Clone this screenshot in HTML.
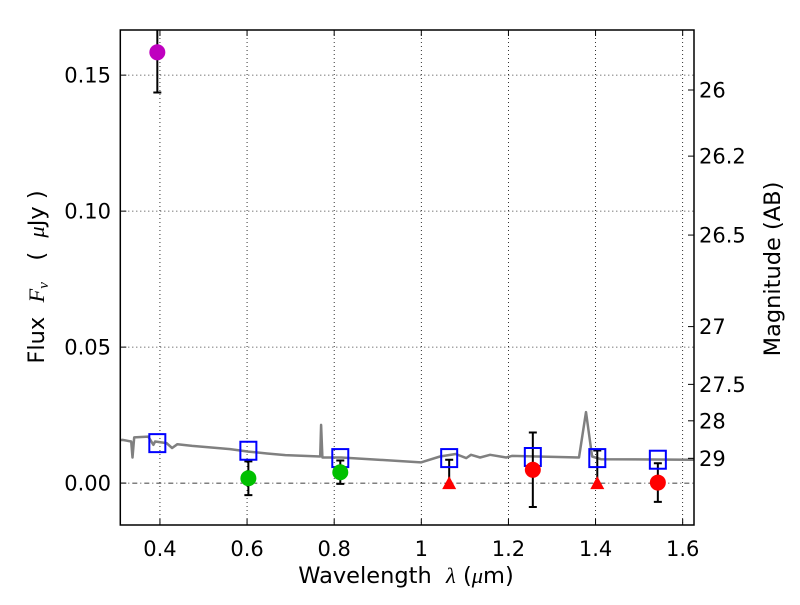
<!DOCTYPE html>
<html><head><meta charset="utf-8"><style>
body{margin:0;background:#fff;}
svg{font-family:"DejaVu Sans","Liberation Sans",sans-serif;}
.pre{white-space:pre;}
</style></head><body>
<svg id="chart" width="800" height="600" viewBox="0 0 800 600" xmlns="http://www.w3.org/2000/svg">
<defs><clipPath id="pc"><rect x="120.3" y="30" width="573.7" height="495"/></clipPath></defs>
<rect x="0" y="0" width="800" height="600" fill="#fff"/>
<g id="grid"></g>
<g id="marks" clip-path="url(#pc)"></g>
<g id="axes"></g>
</svg>
<script>
const xTicks = [0.4, 0.6, 0.8, 1.0, 1.2, 1.4, 1.6];
const xTickLabels = ["0.4", "0.6", "0.8", "1", "1.2", "1.4", "1.6"];
const yTicks = [0.00, 0.05, 0.10, 0.15];
const yTickLabels = ["0.00", "0.05", "0.10", "0.15"];
const magTicks = [26, 26.2, 26.5, 27, 27.5, 28, 29];
const magTickLabels = ["26", "26.2", "26.5", "27", "27.5", "28", "29"];
const specWave = [0.309,0.314,0.334,0.337,0.341,0.373,0.385,0.389,0.415,0.428,0.440,0.474,0.518,0.561,0.603,0.646,0.688,0.768,0.770,0.773,0.816,0.901,0.999,1.043,1.079,1.103,1.114,1.135,1.158,1.195,1.208,1.362,1.378,1.392,1.412,1.626];
const specFlux = [0.0158,0.0159,0.0153,0.0094,0.0168,0.0171,0.0141,0.0153,0.0147,0.0129,0.0143,0.0137,0.0131,0.0125,0.0116,0.0109,0.0103,0.0098,0.0214,0.0094,0.0094,0.0086,0.0076,0.0098,0.0107,0.0092,0.0104,0.0094,0.0104,0.0094,0.0100,0.0094,0.0261,0.0098,0.0088,0.0086];
const modelWave = [0.394,0.603,0.814,1.064,1.256,1.404,1.543];
const modelFlux = [0.0147,0.0119,0.0092,0.0092,0.0096,0.0092,0.0086];
const obsWave = [0.394,0.603,0.814,1.256,1.543];
const obsFlux = [0.1584,0.0018,0.0040,0.0049,0.0002];
const obsErr = [0.0148,0.0062,0.0043,0.0137,0.0071];
const obsColor = ["#bf00bf","#00c000","#00c000","#ff0000","#ff0000"];
const limWave = [1.064,1.404];
const limFlux = [0.0,0.0];
const limErr = [0.0086,0.0120];

const L=120.3,R=694,T=30,B=525;
const xMin=0.309,xMax=1.626,yMin=-0.0154,yMax=0.1666;
function X(v){return L+(v-xMin)/(xMax-xMin)*(R-L);}
function Y(v){return B-(v-yMin)/(yMax-yMin)*(B-T);}
function magToFlux(m){return Math.pow(10,(23.9-m)/2.5);}
const NS="http://www.w3.org/2000/svg";
function mk(tag,attrs,parent){const e=document.createElementNS(NS,tag);for(const k in attrs)e.setAttribute(k,attrs[k]);parent.appendChild(e);return e;}
const grid=document.getElementById('grid'),marks=document.getElementById('marks'),axes=document.getElementById('axes');

xTicks.forEach((t,i)=>{
  const g=mk('line',{x1:X(t),x2:X(t),y1:T,y2:B,stroke:'#000','stroke-width':0.8,'stroke-dasharray':'1,3'},grid);
  
  
  const tb=mk('line',{x1:X(t),x2:X(t),y1:B,y2:B-6,stroke:'#000','stroke-width':1},axes);
  
  
  const tt=mk('line',{x1:X(t),x2:X(t),y1:T,y2:T+6,stroke:'#000','stroke-width':1},axes);
  
  
  const lb=mk('text',{x:X(t),y:556,'font-size':21,'text-anchor':'middle'},axes);
  lb.textContent=xTickLabels[i];
  
  
});
yTicks.forEach((t,i)=>{
  const g=mk('line',{x1:L,x2:R,y1:Y(t),y2:Y(t),stroke:'#000','stroke-width':0.8,'stroke-dasharray':t===0?'5,3,1,3':'1,3'},grid);
  
  
  const tk=mk('line',{x1:L,x2:L+6,y1:Y(t),y2:Y(t),stroke:'#000','stroke-width':1},axes);
  
  
  const lb=mk('text',{x:111,y:Y(t)+7.5,'font-size':21,'text-anchor':'end'},axes);
  lb.textContent=yTickLabels[i];
  
  
});
magTicks.forEach((m,i)=>{
  const y=Y(magToFlux(m));
  const tk=mk('line',{x1:R,x2:R-6,y1:y,y2:y,stroke:'#000','stroke-width':1},axes);
  
  
  const lb=mk('text',{x:699,y:y+7.5,'font-size':21},axes);
  lb.textContent=magTickLabels[i];
  
  
});

let d='';
specWave.forEach((w,i)=>{d+=(i?'L':'M')+X(w).toFixed(1)+','+Y(specFlux[i]).toFixed(1);});
const sp=mk('path',{d:d,fill:'none',stroke:'#808080','stroke-width':2.5,'stroke-linejoin':'round'},marks);



obsWave.forEach((w,i)=>{
  const x=X(w),y1=Y(obsFlux[i]-obsErr[i]),y2=Y(obsFlux[i]+obsErr[i]);
  const e=mk('path',{d:`M${x},${y1}L${x},${y2}M${x-4},${y1}L${x+4},${y1}M${x-4},${y2}L${x+4},${y2}`,stroke:'#000','stroke-width':2,fill:'none'},marks);
  
  
});
limWave.forEach((w,i)=>{
  const x=X(w),y1=Y(limFlux[i]),y2=Y(limFlux[i]+limErr[i]);
  const e=mk('path',{d:`M${x},${y1}L${x},${y2}M${x-4},${y2}L${x+4},${y2}`,stroke:'#000','stroke-width':2,fill:'none'},marks);
  
  
});
modelWave.forEach((w,i)=>{
  const x=X(w),y=Y(modelFlux[i]);
  const s=mk('rect',{x:x-8,y:y-9,width:16,height:18,fill:'none',stroke:'#0000ff','stroke-width':2},marks);
  
  
});
obsWave.forEach((w,i)=>{
  const c=mk('circle',{cx:X(w),cy:Y(obsFlux[i]),r:8,fill:obsColor[i]},marks);
  
  
});
limWave.forEach((w,i)=>{
  const x=X(w),y=Y(limFlux[i]);
  const t=mk('path',{d:`M${x-7},${y+6}L${x+7},${y+6}L${x},${y-7}Z`,fill:'#ff0000'},marks);
  
  
});

const fr=mk('rect',{x:L,y:T,width:R-L,height:B-T,fill:'none',stroke:'#000','stroke-width':1.5},axes);


const xl=mk('text',{x:406,y:583,'font-size':22.5,'text-anchor':'middle','class':'pre'},axes);
xl.innerHTML='Wavelength  <tspan font-family="Liberation Serif" font-style="italic">λ</tspan> (<tspan font-family="Liberation Serif" font-style="italic">μ</tspan>m)';


const yl=mk('text',{x:0,y:0,'font-size':22.5,'text-anchor':'middle','class':'pre',transform:'translate(44,277) rotate(-90)'},axes);
yl.innerHTML='Flux  <tspan font-family="Liberation Serif" font-style="italic">F</tspan><tspan font-family="Liberation Serif" font-style="italic" font-size="15" dy="4">ν</tspan><tspan dy="-4">   (  </tspan><tspan font-family="Liberation Serif" font-style="italic">μ</tspan>Jy )';


const ml=mk('text',{x:0,y:0,'font-size':22.5,'text-anchor':'middle',transform:'translate(780,269) rotate(-90)'},axes);
ml.textContent='Magnitude (AB)';


</script>
</body></html>
